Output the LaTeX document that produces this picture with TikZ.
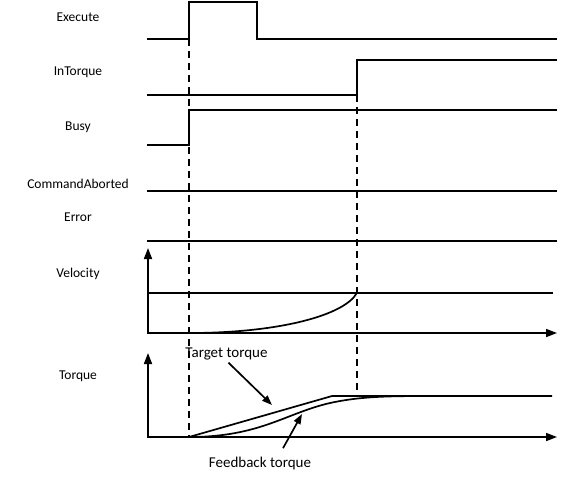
\documentclass[tikz,border=0pt]{standalone}
\usepackage{fontspec}
\setmainfont{Carlito}
\usepackage{tikz}
\usetikzlibrary{arrows.meta}

\begin{document}
\begin{tikzpicture}[x=0.5pt,y=-0.5pt,
  every node/.style={font=\fontsize{6.75}{8}\selectfont,align=center,inner sep=0pt},
  sig/.style={line width=0.85pt},
  guide/.style={line width=0.6pt,dash pattern=on 3.5pt off 2.5pt},
  axis/.style={line width=0.85pt,{Triangle[length=5.5pt,width=4pt]}-{Triangle[length=5.5pt,width=4pt]}},
  pointer/.style={line width=0.85pt,-{Triangle[length=5pt,width=3.6pt]}}]
  \useasboundingbox (0,0) rectangle (572,479);
  % signal names
  \foreach \n/\y in {Execute/21.7,InTorque/75.7,Busy/130.7,CommandAborted/188.7,Error/221.7,Velocity/277.7,Torque/379.5}
    \node[anchor=base] (lbl\n) at (78,\y) {\n};
  % digital signals
  \draw[sig] (147,39) -- (189,39) -- (189,2) -- (257,2) -- (257,39) -- (557,39);
  \draw[sig] (147,95) -- (357,95) -- (357,60) -- (557,60);
  \draw[sig] (147,145) -- (189,145) -- (189,110) -- (557,110);
  \foreach \y in {191,240.7}
    \draw[sig] (147,\y) -- (557,\y);
  % velocity
  \draw[axis] (148,248) -- (148,333) -- (557,333);
  \draw[sig] (148,292.7) -- (553,292.7);
  \draw[sig] (189,333) .. controls (280,333) and (345,315) .. (357,292.7);
  % torque
  \draw[axis] (148,353) -- (148,437) -- (557,437);
  \draw[sig] (189,437) -- (332,396) -- (552,396);
  \draw[sig] (189,437) .. controls (260,437) and (286,413) .. (330,403)
    .. controls (362,396) and (390,396) .. (440,396);
  % time marks
  \draw[guide] (189,39) -- (189,437);
  \draw[guide] (357,95) -- (357,396);
  % curve names
  \node[anchor=base,font=\fontsize{7.5}{9}\selectfont] (lblTarget) at (226.5,357.7) {Target torque};
  \node[anchor=base,font=\fontsize{7.5}{9}\selectfont] (lblFeedback) at (260,467) {Feedback torque};
  \coordinate (tgtTip) at (272,405);
  \coordinate (fbTip) at (302,414);
  \draw[pointer] ([xshift=1pt,yshift=-1pt]lblTarget.south) -- (tgtTip);
  \draw[pointer] ([xshift=11.5pt,yshift=4pt]lblFeedback.north) -- (fbTip);
\end{tikzpicture}
\end{document}
